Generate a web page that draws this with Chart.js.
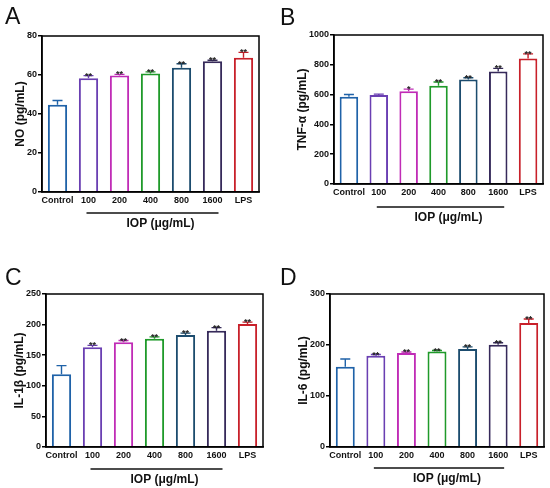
<!DOCTYPE html>
<html>
<head>
<meta charset="utf-8">
<script src="https://cdn.jsdelivr.net/npm/chart.js@4.4.1/dist/chart.umd.min.js"></script>
<style>
  body { margin: 0; background: #fff; }
  #wrap { position: relative; width: 550px; height: 488px; }
  .panel { position: absolute; }
  .letter { position: absolute; font-family: "Liberation Sans", Arial, sans-serif; font-size: 23px; color: #111; line-height: 1; }
</style>
</head>
<body>
<div id="wrap">
  <div class="panel" style="left:0;top:0;width:275px;height:244px"><canvas id="cA"></canvas></div>
  <div class="panel" style="left:275px;top:0;width:275px;height:244px"><canvas id="cB"></canvas></div>
  <div class="panel" style="left:0;top:250px;width:275px;height:238px"><canvas id="cC"></canvas></div>
  <div class="panel" style="left:275px;top:250px;width:275px;height:238px"><canvas id="cD"></canvas></div>
  <div class="letter" style="left:5px;top:5px">A</div>
  <div class="letter" style="left:280px;top:6px">B</div>
  <div class="letter" style="left:5px;top:266px">C</div>
  <div class="letter" style="left:280px;top:266px">D</div>
</div>
<script>
const groups = ['Control', '100', '200', '400', '800', '1600', 'LPS'];
const barColors = ['#1f62a8', '#6a3fb2', '#c02cb6', '#1f9a2a', '#1c4c6e', '#362a5a', '#c8202a'];

const noMean  = [44.7, 58.3, 59.7, 60.8, 63.7, 67.0, 68.8];
const noErr   = [2.2, 1.4, 0.6, 0.8, 2.1, 0.6, 2.8];
const noStars = ['', '**', '**', '**', '**', '**', '**'];

const tnfMean  = [586, 597, 622, 660, 701, 755, 842];
const tnfErr   = [15, 6, 15, 25, 12, 21, 31];
const tnfStars = ['', '', '*', '**', '**', '**', '**'];

const il1Mean  = [119, 163, 171, 177, 183, 190, 201];
const il1Err   = [14, 3, 3, 3, 3, 5, 3];
const il1Stars = ['', '**', '**', '**', '**', '**', '**'];

const il6Mean  = [157.5, 178.8, 184.3, 187.2, 192.3, 200.3, 243];
const il6Err   = [15, 2.5, 2, 2, 4, 4, 8];
const il6Stars = ['', '**', '**', '**', '**', '**', '**'];

const FONT = '"Liberation Sans", Arial, sans-serif';

const extras = {
  id: 'extras',
  afterDatasetsDraw(chart) {
    const ctx = chart.ctx;
    const ca = chart.chartArea;
    const meta = chart.getDatasetMeta(0);
    const y = chart.scales.y;
    const x = chart.scales.x;
    const o = chart.options.plugins.extras;
    ctx.save();
    // box border
    ctx.strokeStyle = '#000';
    ctx.lineWidth = 1.5;
    ctx.strokeRect(ca.left, ca.top, ca.right - ca.left, ca.bottom - ca.top);
    // error bars and stars
    meta.data.forEach((bar, i) => {
      const top = y.getPixelForValue(o.mean[i] + o.err[i]);
      ctx.strokeStyle = barColors[i];
      ctx.lineWidth = 1.4;
      ctx.beginPath();
      ctx.moveTo(bar.x, bar.y);
      ctx.lineTo(bar.x, top);
      ctx.moveTo(bar.x - 5, top);
      ctx.lineTo(bar.x + 5, top);
      ctx.stroke();
      if (o.stars[i]) {
        ctx.fillStyle = '#222';
        ctx.font = 'bold 9px ' + FONT;
        ctx.textAlign = 'center';
        ctx.textBaseline = 'alphabetic';
        ctx.fillText(o.stars[i], bar.x, top + 3);
      }
    });
    // IOP bracket line and label
    const x1 = x.getPixelForValue(1) - 2;
    const x2 = x.getPixelForValue(5) + 6;
    const ly = ca.bottom + o.lineOff;
    ctx.strokeStyle = '#111';
    ctx.lineWidth = 1.5;
    ctx.beginPath();
    ctx.moveTo(x1, ly);
    ctx.lineTo(x2, ly);
    ctx.stroke();
    ctx.fillStyle = '#111';
    ctx.font = 'bold 12px ' + FONT;
    ctx.textAlign = 'center';
    ctx.textBaseline = 'middle';
    ctx.fillText('IOP (\u03bcg/mL)', (x1 + x2) / 2 + 8, ly + 11);
    ctx.restore();
  }
};

function makeChart(id, mean, err, stars, yMax, yStep, yTitle, lay) {
  return new Chart(document.getElementById(id), {
    type: 'bar',
    data: {
      labels: groups,
      datasets: [{
        data: mean,
        backgroundColor: '#ffffff',
        borderColor: barColors,
        borderWidth: 2,
        borderSkipped: 'bottom',
        barPercentage: 0.62,
        categoryPercentage: 1
      }]
    },
    options: {
      responsive: true,
      maintainAspectRatio: false,
      animation: false,
      layout: { padding: { left: 0, top: lay.top, right: lay.right, bottom: 0 } },
      plugins: {
        legend: { display: false },
        tooltip: { enabled: false },
        extras: { mean: mean, err: err, stars: stars, lineOff: lay.lineOff }
      },
      scales: {
        x: {
          grid: { display: false, drawTicks: false, tickLength: 0 },
          border: { display: true, color: '#000', width: 1.5 },
          ticks: { color: '#111', font: { family: FONT, size: 9, weight: 'bold' }, padding: 3, maxRotation: 0, autoSkip: false },
          afterFit: s => { s.height = lay.xh; }
        },
        y: {
          min: 0,
          max: yMax,
          grid: { drawOnChartArea: false, drawTicks: true, tickLength: 4, color: '#000', lineWidth: 1.5 },
          border: { display: true, color: '#000', width: 1.5 },
          ticks: { stepSize: yStep, color: '#111', font: { family: FONT, size: 9, weight: 'bold' }, padding: 1, callback: v => String(v) },
          title: { display: true, text: yTitle, color: '#111', font: { family: FONT, size: 12, weight: 'bold' }, padding: { top: lay.tpad, bottom: 0 } },
          afterFit: s => { s.width = lay.yw; }
        }
      }
    },
    plugins: [extras]
  });
}

makeChart('cA', noMean, noErr, noStars, 80, 20, 'NO (pg/mL)',
  { top: 36, right: 16, xh: 52, yw: 42, tpad: 13, lineOff: 21 });
makeChart('cB', tnfMean, tnfErr, tnfStars, 1000, 200, 'TNF-\u03b1 (pg/mL)',
  { top: 35, right: 7, xh: 60, yw: 59, tpad: 20, lineOff: 23 });
makeChart('cC', il1Mean, il1Err, il1Stars, 250, 50, 'IL-1\u03b2 (pg/mL)',
  { top: 44, right: 12, xh: 41, yw: 46, tpad: 12, lineOff: 22 });
makeChart('cD', il6Mean, il6Err, il6Stars, 300, 100, 'IL-6 (pg/mL)',
  { top: 44, right: 6, xh: 41, yw: 55, tpad: 21, lineOff: 21 });
</script>
</body>
</html>
